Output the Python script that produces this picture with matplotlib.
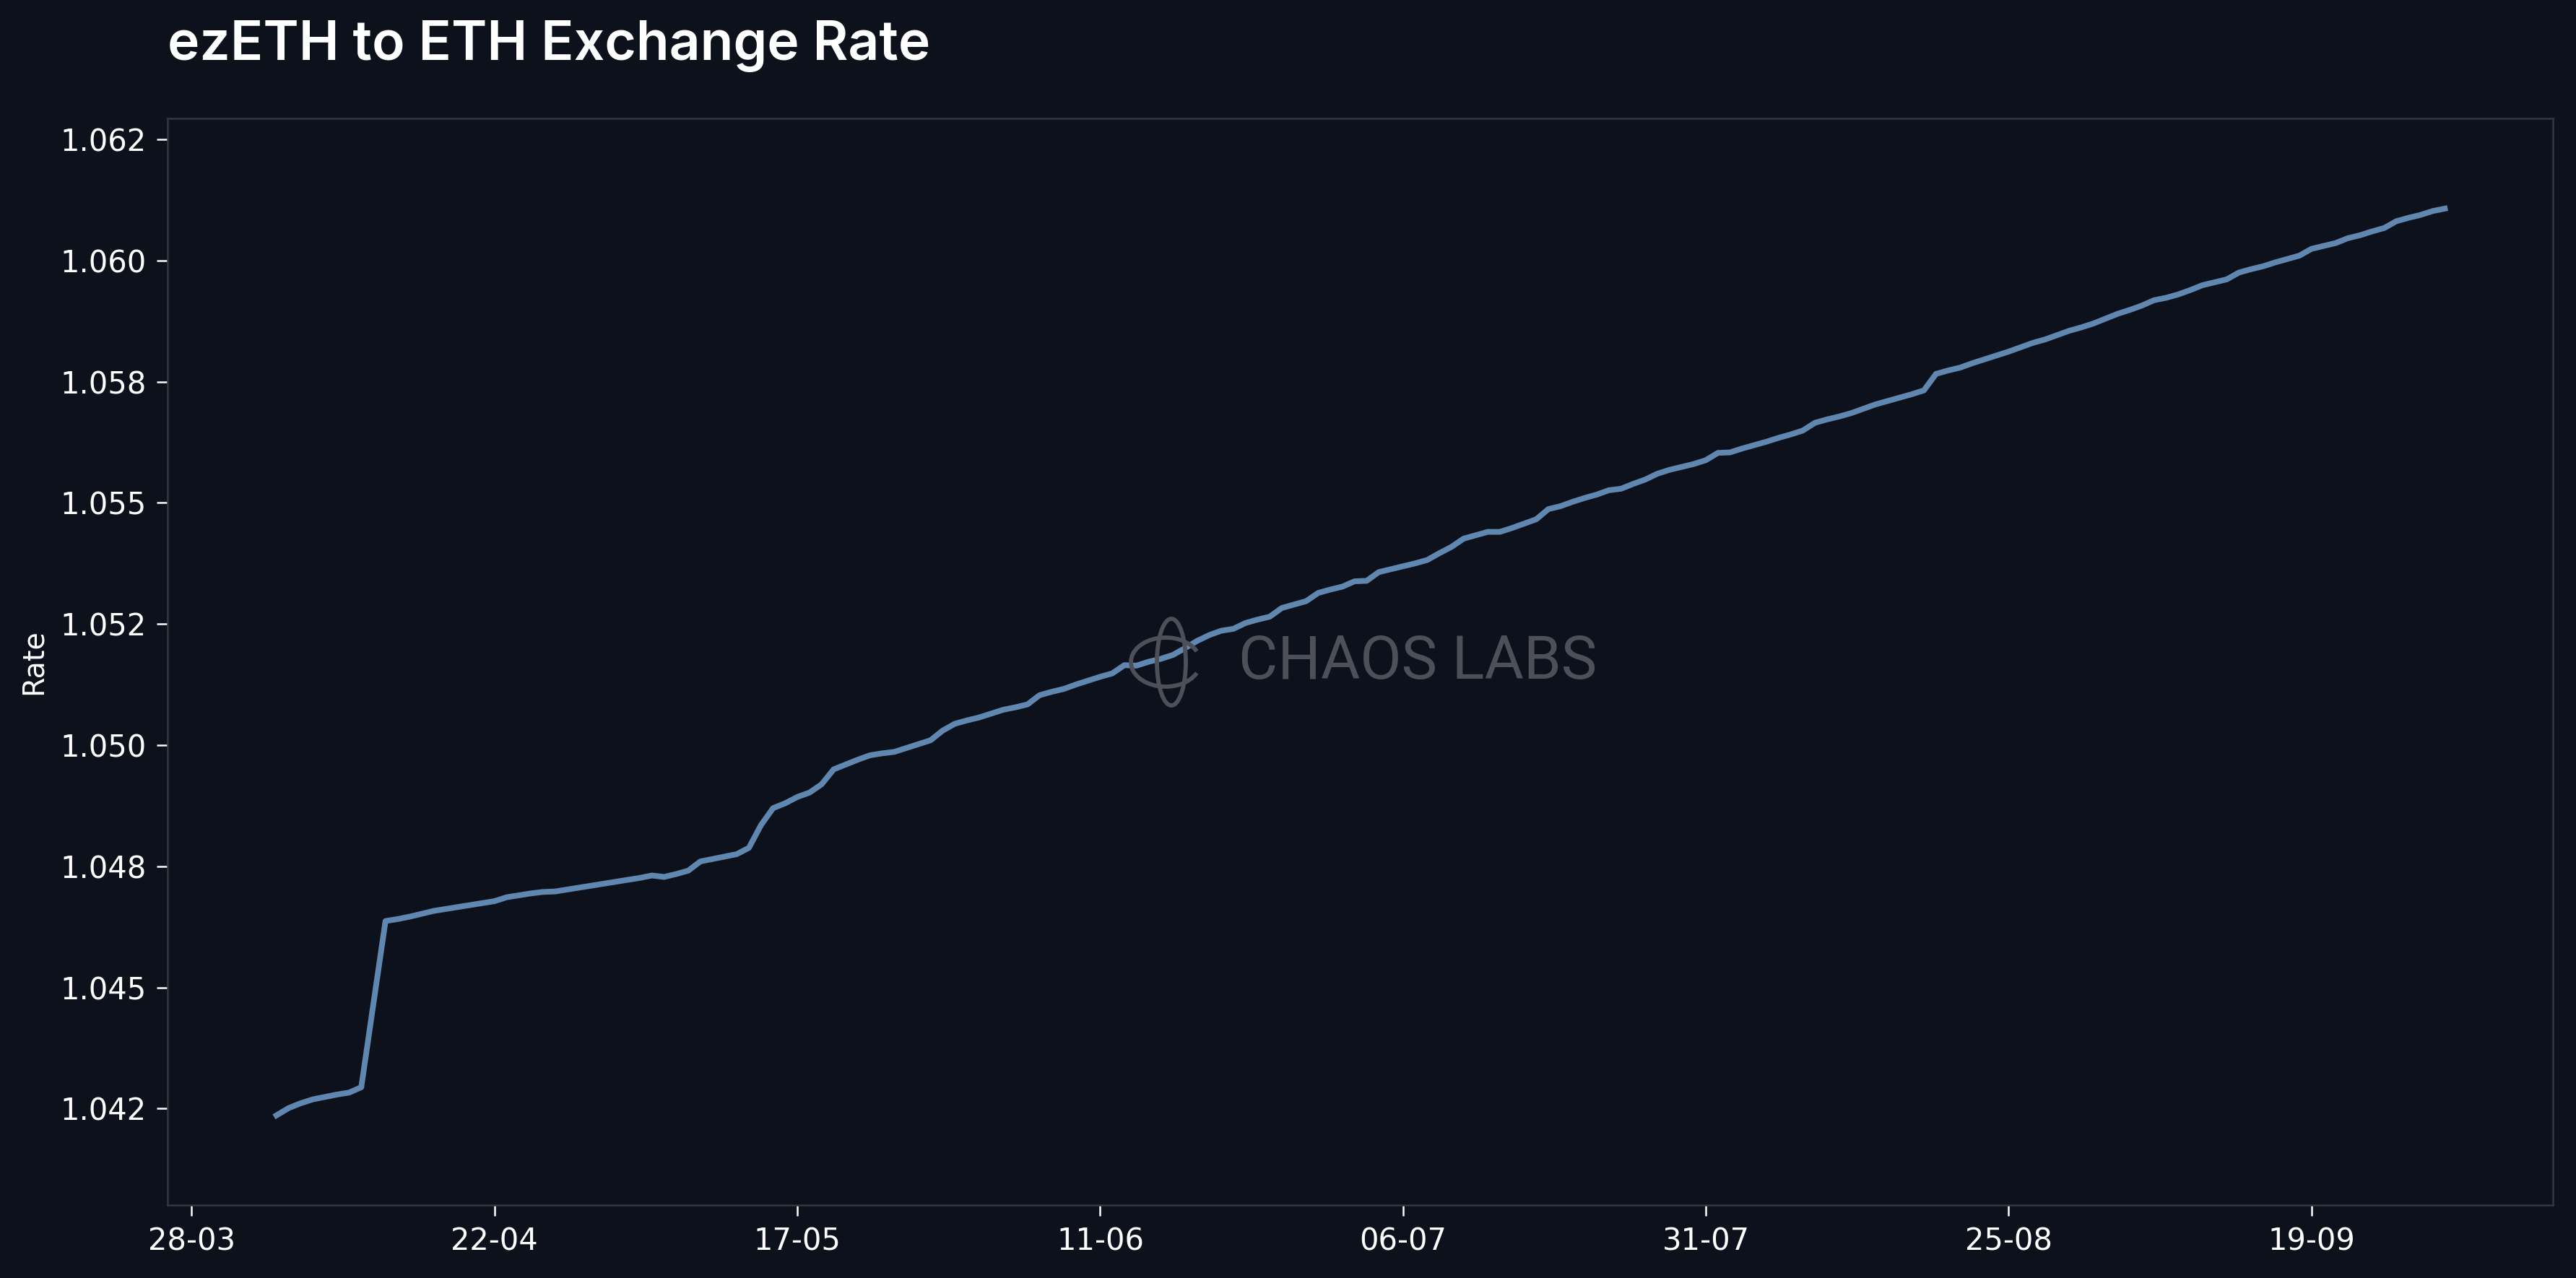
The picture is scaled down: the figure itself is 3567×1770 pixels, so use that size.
import numpy as np
import pandas as pd
import matplotlib
matplotlib.use("Agg")
import matplotlib.pyplot as plt
import matplotlib.dates as mdates
from matplotlib.patches import Ellipse, Arc

# Tasa diaria ezETH/ETH (4 abr - 30 sep 2024)
start_date = "2024-04-04"
rate = [
    1.04236, 1.04251, 1.04261, 1.04269, 1.04274, 1.04279, 1.04283, 1.04294, 1.04466, 1.04637,
    1.04641, 1.04646, 1.04652, 1.04658, 1.04662, 1.04666, 1.04670, 1.04674, 1.04678, 1.04686,
    1.04690, 1.04694, 1.04697, 1.04698, 1.04702, 1.04706, 1.04710, 1.04714, 1.04718, 1.04722,
    1.04726, 1.04731, 1.04728, 1.04734, 1.04741, 1.04760, 1.04765, 1.04770, 1.04775, 1.04788,
    1.04835, 1.04870, 1.04880, 1.04893, 1.04902, 1.04919, 1.04950, 1.04960, 1.04970, 1.04979,
    1.04983, 1.04986, 1.04994, 1.05002, 1.05010, 1.05030, 1.05044, 1.05051, 1.05057, 1.05065,
    1.05073, 1.05078, 1.05084, 1.05103, 1.05110, 1.05116, 1.05125, 1.05133, 1.05141, 1.05148,
    1.05165, 1.05164, 1.05172, 1.05178, 1.05186, 1.05200, 1.05215, 1.05227, 1.05236, 1.05240,
    1.05252, 1.05259, 1.05265, 1.05283, 1.05290, 1.05297, 1.05314, 1.05321, 1.05327, 1.05338,
    1.05339, 1.05357, 1.05363, 1.05369, 1.05375, 1.05382, 1.05396, 1.05409, 1.05426, 1.05433,
    1.05440, 1.05440, 1.05448, 1.05457, 1.05466, 1.05487, 1.05493, 1.05502, 1.05510, 1.05517,
    1.05526, 1.05529, 1.05539, 1.05548, 1.05560, 1.05568, 1.05574, 1.05580, 1.05588, 1.05603,
    1.05604, 1.05612, 1.05619, 1.05626, 1.05634, 1.05641, 1.05649, 1.05665, 1.05672, 1.05678,
    1.05685, 1.05694, 1.05703, 1.05710, 1.05717, 1.05724, 1.05732, 1.05766, 1.05773, 1.05779,
    1.05788, 1.05796, 1.05804, 1.05812, 1.05821, 1.05830, 1.05837, 1.05846, 1.05855, 1.05862,
    1.05870, 1.05880, 1.05890, 1.05898, 1.05907, 1.05918, 1.05923, 1.05930, 1.05939, 1.05949,
    1.05955, 1.05961, 1.05975, 1.05982, 1.05988, 1.05996, 1.06003, 1.06010, 1.06024, 1.06030,
    1.06036, 1.06046, 1.06052, 1.06060, 1.06067, 1.06081, 1.06088, 1.06094, 1.06102, 1.06107,
]
dates = pd.date_range(start_date, periods=len(rate), freq="D")

# Ticks
tick_dates = pd.date_range("2024-03-28", periods=8, freq="25D")
y_ticks = [1.0425, 1.045, 1.0475, 1.05, 1.0525, 1.055, 1.0575, 1.06, 1.0625]

bg = "#0d111c"
line_color = "#5f87b0"
spine_color = "#34373f"
mark_color = "#4d5059"

fig = plt.figure(figsize=(3567 / 300, 1770 / 300), dpi=300, facecolor=bg)
ax = fig.add_axes([0.065, 0.0571, 0.926, 0.8502])
ax.set_facecolor(bg)

ax.plot(dates, rate, color=line_color, linewidth=1.9, zorder=3)

ax.set_xlim(pd.Timestamp("2024-03-26"), pd.Timestamp("2024-10-08 22:00"))
ax.set_ylim(1.04051, 1.06293)
ax.set_xticks(tick_dates)
ax.xaxis.set_major_formatter(mdates.DateFormatter("%d-%m"))
ax.set_yticks(y_ticks)
ax.set_yticklabels([f"{v:.3f}" for v in y_ticks])

ax.tick_params(colors="white", labelcolor="white", labelsize=10, width=0.6, length=3.5)
for s in ax.spines.values():
    s.set_color(spine_color)
    s.set_linewidth(0.6)

ax.set_ylabel("Rate", color="white", fontsize=9.5, labelpad=8)
ax.yaxis.set_label_coords(-0.05, 0.5)

fig.text(0.065, 0.953, "ezETH to ETH Exchange Rate", color="white", fontsize=18,
         fontfamily="Inter", fontweight="semibold", va="baseline", ha="left")

# Marca de agua (en coordenadas de figura)
W, H = 3567, 1770
fig.text(1715 / W, 1 - 917 / H, "CHAOS LABS", color=mark_color, fontsize=20,
         fontfamily="Roboto", va="center", ha="left", zorder=2)
cx, cy = 1622 / W, 1 - 917 / H
fig.add_artist(Ellipse((cx, cy), 40 / W, 120 / H, transform=fig.transFigure,
                       fill=False, edgecolor=mark_color, linewidth=1.4, zorder=2))
fig.add_artist(Arc((cx - 8 / W, cy), 96 / W, 68 / H, theta1=35, theta2=325,
                   transform=fig.transFigure, edgecolor=mark_color, linewidth=1.4, zorder=2))

fig.savefig("out.png", dpi=300, facecolor=bg)
